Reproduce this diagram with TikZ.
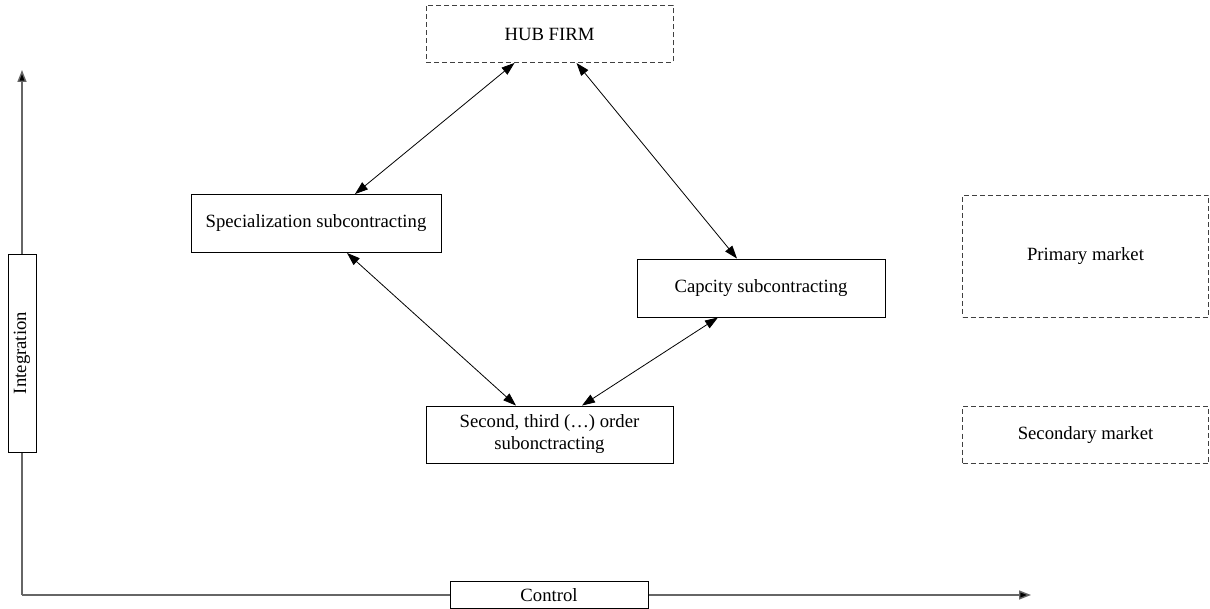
\documentclass[tikz,border=0pt]{standalone}
\usepackage{fontspec}
\setmainfont{Liberation Serif}
\usetikzlibrary{arrows.meta,calc}
\begin{document}
\begin{tikzpicture}[x=1pt,y=-1pt,
  every node/.style={font=\fontsize{18.7}{22}\selectfont, align=center, inner sep=0pt},
  solidbox/.style={draw=black, line width=0.9pt, fill=white},
  dashbox/.style={draw=black!75, line width=0.9pt, dash pattern=on 5pt off 3pt},
  link/.style={line width=0.8pt, {Triangle[length=13pt,width=9pt]}-{Triangle[length=13pt,width=9pt]}},
  axis/.style={draw=black!60, line width=1.4pt, -{Triangle[length=12pt,width=9pt,fill=black]}}
]
\useasboundingbox (0,0) rectangle (1210,609);

% axes
\coordinate (o) at (22,595);
\coordinate (ytop) at (22,70);
\coordinate (xend) at (1031,595);
\draw[axis] (o) -- (ytop);
\draw[axis] (o) -- (xend);

\node[solidbox, minimum width=198pt, minimum height=28pt, rotate=90] (integ) at (22,353) {Integration};
\node[solidbox, minimum width=198pt, minimum height=27pt] (ctrl) at (549,595) {Control};

% boxes
\node[dashbox, minimum width=247pt, minimum height=57pt] (hub) at (549.5,34) {HUB FIRM};
\node[solidbox, minimum width=250pt, minimum height=58pt] (spec) at (316,223.5) {Specialization subcontracting};
\node[solidbox, minimum width=248pt, minimum height=58pt] (cap) at (761,288) {Capcity subcontracting};
\node[solidbox, minimum width=247pt, minimum height=57pt] (sec) at (549.5,434.5) {Second, third (\dots) order\\subonctracting};
\node[dashbox, minimum width=246pt, minimum height=122pt] (prim) at (1085.5,256) {Primary market};
\node[dashbox, minimum width=246pt, minimum height=57pt] (secm) at (1085.5,435) {Secondary market};

% connectors
\draw[link] ([xshift=-35pt]hub.south) -- ([xshift=39pt]spec.north);
\draw[link] ([xshift=27pt]hub.south) -- ([xshift=-24pt]cap.north);
\draw[link] ([xshift=31pt]spec.south) -- ([xshift=-33.5pt]sec.north);
\draw[link] ([xshift=-43pt]cap.south) -- ([xshift=32.5pt]sec.north);
\end{tikzpicture}
\end{document}
